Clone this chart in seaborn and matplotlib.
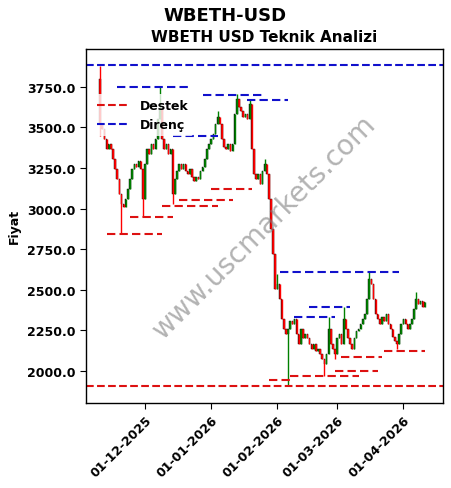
import pandas as pd
import numpy as np
import matplotlib
matplotlib.use("Agg")
import matplotlib.pyplot as plt
import matplotlib.dates as mdates
import seaborn as sns

# daily closes from 2025-11-10
start_date = "2025-11-10"
closes = [
    3520, 3490, 3430, 3370, 3400, 3370, 3305, 3245, 3180, 3090,
    3030, 3010, 3060, 3120, 3185, 3245, 3275, 3255, 3295, 3245,
    3060, 3275, 3370, 3335, 3400, 3370, 3430, 3550, 3615, 3430,
    3370, 3400, 3335, 3370, 3090, 3180, 3230, 3275, 3245, 3275,
    3230, 3215, 3245, 3195, 3170, 3195, 3185, 3230, 3255, 3305,
    3370, 3400, 3430, 3460, 3520, 3565, 3520, 3430, 3380, 3370,
    3400, 3355, 3400, 3585, 3675, 3625, 3600, 3565, 3585, 3550,
    3645, 3370, 3215, 3185, 3215, 3150, 3230, 3275, 3215, 3060,
    2875, 2720, 2505, 2535, 2445, 2320, 2260, 2230, 2260, 2310,
    2290, 2320, 2230, 2165, 2260, 2200, 2230, 2200, 2165, 2135,
    2165, 2125, 2135, 2105, 2075, 2045, 2105, 2260, 2165, 2135,
    2105, 2200, 2230, 2165, 2320, 2260, 2200, 2165, 2135, 2200,
    2245, 2260, 2290, 2320, 2350, 2445, 2565, 2535, 2445, 2350,
    2320, 2290, 2330, 2310, 2350, 2290, 2260, 2210, 2185, 2165,
    2230, 2290, 2320, 2290, 2260, 2290, 2320, 2380, 2445, 2415,
    2430, 2395, 2425,
]
first_open = 3800

# notable wicks: day index -> (high, low)
wick_highs = {0: 3880, 28: 3750, 55: 3600, 64: 3705, 70: 3675, 77: 3305,
              83: 2600, 107: 2330, 114: 2395, 126: 2610, 148: 2485}
wick_lows = {0: 3450, 10: 2845, 20: 2950, 34: 3030, 88: 1908, 105: 1970,
             110: 2075, 139: 2135}

# support (Destek) and resistance (Direnç) segments: value, start, end
support_vals = [2845, 2950, 3017, 3055, 3123, 1945, 1970, 2000, 2085, 2125]
support_start = ["2025-11-13", "2025-11-24", "2025-12-09", "2025-12-17", "2026-01-01",
                 "2026-01-28", "2026-02-07", "2026-02-28", "2026-03-03", "2026-03-23"]
support_end = ["2025-12-09", "2025-12-14", "2026-01-04", "2026-01-11", "2026-01-20",
               "2026-02-07", "2026-03-11", "2026-03-20", "2026-03-22", "2026-04-11"]
resist_vals = [3750, 3448, 3700, 3672, 2610, 2395, 2333]
resist_start = ["2025-11-18", "2025-12-14", "2025-12-28", "2026-01-18", "2026-02-02",
                "2026-02-16", "2026-02-09"]
resist_end = ["2025-12-22", "2026-01-04", "2026-01-26", "2026-02-06", "2026-03-30",
              "2026-03-07", "2026-02-28"]
top_level = 3885
bottom_level = 1908

dates = pd.date_range(start_date, periods=len(closes), freq="D")
df = pd.DataFrame({"date": dates, "close": closes})
df["open"] = [first_open] + closes[:-1]
df["high"] = df[["open", "close"]].max(axis=1)
df["low"] = df[["open", "close"]].min(axis=1)
for i, v in wick_highs.items():
    df.loc[i, "high"] = v
for i, v in wick_lows.items():
    df.loc[i, "low"] = v

sns.set_style("white")
plt.rcParams["font.family"] = ["DejaVu Sans"]
plt.rcParams["font.weight"] = "bold"
plt.rcParams["text.color"] = "black"
plt.rcParams["axes.labelcolor"] = "black"
plt.rcParams["xtick.color"] = "black"
plt.rcParams["ytick.color"] = "black"

fig = plt.figure(figsize=(4.51, 4.89), dpi=100)
ax = fig.add_axes([0.19, 0.174, 0.792, 0.724])

up = df["close"] >= df["open"]
colors = np.where(up, "green", "red")
ax.vlines(df["date"], df["low"], df["high"], colors=colors, linewidth=1)
ax.bar(df["date"], (df["close"] - df["open"]).abs().clip(lower=8),
       bottom=df[["open", "close"]].min(axis=1), width=0.7,
       color=colors, edgecolor="black", linewidth=0.3)

for v, s, e in zip(support_vals, support_start, support_end):
    ax.hlines(v, pd.Timestamp(s), pd.Timestamp(e), colors="#dd1111",
              linestyles=(0, (4, 2)), linewidth=1.5)
for v, s, e in zip(resist_vals, resist_start, resist_end):
    ax.hlines(v, pd.Timestamp(s), pd.Timestamp(e), colors="#1111cc",
              linestyles=(0, (4, 2)), linewidth=1.5)
ax.axhline(top_level, color="#1111cc", linestyle="--", linewidth=1.5)
ax.axhline(bottom_level, color="#dd1111", linestyle="--", linewidth=1.5)

ax.plot([], [], color="#dd1111", linestyle="--", linewidth=1.5, label="Destek")
ax.plot([], [], color="#1111cc", linestyle="--", linewidth=1.5, label="Direnç")
leg = ax.legend(loc="upper left", bbox_to_anchor=(0.0, 0.89), frameon=True,
                framealpha=0.8, edgecolor="none", handlelength=2.6,
                prop={"weight": "bold", "size": 9})

ax.text(0.5, 0.5, "www.uscmarkets.com", transform=ax.transAxes, fontsize=20,
        color="gray", alpha=0.6, rotation=45, ha="center", va="center",
        fontweight="normal")

ax.set_xlim(pd.Timestamp("2025-11-03 06:00"), pd.Timestamp("2026-04-19 12:00"))
ax.set_ylim(1803, 3984)
ax.xaxis.set_major_locator(mdates.MonthLocator())
ax.xaxis.set_major_formatter(mdates.DateFormatter("%d-%m-%Y"))
ax.yaxis.set_major_formatter(matplotlib.ticker.FormatStrFormatter("%.1f"))
ax.yaxis.set_major_locator(matplotlib.ticker.MultipleLocator(250))
plt.setp(ax.get_xticklabels(), rotation=45, ha="right", rotation_mode="anchor",
         fontsize=9, fontweight="bold")
plt.setp(ax.get_yticklabels(), fontsize=9, fontweight="bold")
ax.tick_params(axis="both", length=4, direction="out", bottom=True, left=True)
for sp in ax.spines.values():
    sp.set_color("black")
    sp.set_linewidth(1)

ax.set_ylabel("Fiyat", fontsize=9, fontweight="bold")
ax.set_xlabel("")
ax.set_title("WBETH USD Teknik Analizi", fontsize=11, fontweight="bold")
fig.suptitle("WBETH-USD", fontsize=13, fontweight="bold", y=0.985)

fig.savefig("out.png", dpi=100)
